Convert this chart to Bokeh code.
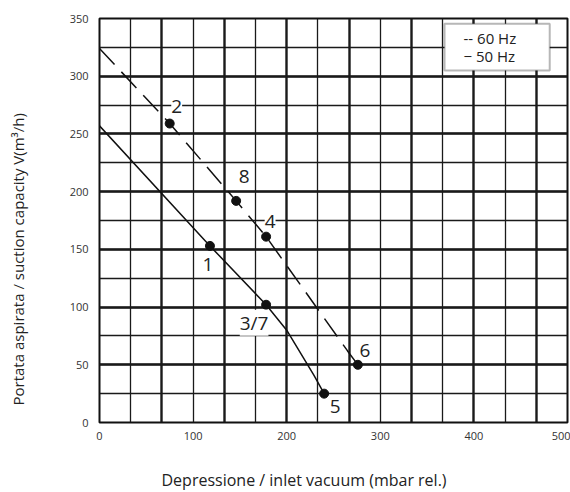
from bokeh.plotting import figure
from bokeh.models import (ColumnDataSource, LabelSet, Label, BoxAnnotation, Grid,
                          FixedTicker, Range1d, Title, LinearAxis)
from bokeh.core.properties import value
from bokeh.embed import file_html
from bokeh.resources import INLINE

# ---- data ----
x50 = [0, 118, 178, 200, 229, 240]
y50 = [257, 153, 102, 80, 41, 25]

x60 = [0, 75, 146, 178, 265, 276]
y60 = [324, 259, 192, 161, 62, 50]

pt_x = [75, 146, 178, 118, 178, 276, 240]
pt_y = [259, 192, 161, 153, 102, 50, 25]
pt_lbl = ["2", "8", "4", "1", "3/7", "6", "5"]

x_ticks = [0, 100, 200, 300, 400, 500]
y_ticks = [0, 50, 100, 150, 200, 250, 300, 350]

legend_lines = ["-- 60 Hz", "\u2212 50 Hz"]
x_title = "Depressione / inlet vacuum (mbar rel.)"
y_title = "Portata aspirata / suction capacity V(m\u00b3/h)"

FONT = "Open Sans"

p = figure(width=570, height=492, output_backend="svg", toolbar_location=None,
           x_range=Range1d(0, 500), y_range=Range1d(0, 350),
           min_border_left=99, min_border_right=3, min_border_top=18,
           min_border_bottom=70)
p.background_fill_color = "white"
p.border_fill_color = "white"
p.outline_line_color = "#111111"
p.outline_line_width = 2

# grids
p.xgrid.visible = False
p.ygrid.visible = False
thin_x = [k * 100 / 3 for k in range(16)]
thick_x = [k * 100 / 3 for k in range(0, 16, 2)]
thin_y = list(range(0, 351, 25))
thick_y = list(range(0, 351, 50))
for dim, ticks, w in [(0, thin_x, 1.3), (0, thick_x, 2.3), (1, thin_y, 1.3), (1, thick_y, 2.3)]:
    g = Grid(dimension=dim, ticker=FixedTicker(ticks=ticks),
             grid_line_color="#1a1a1a", grid_line_width=w)
    p.add_layout(g, "center")

# axes
for ax in (p.xaxis[0], p.yaxis[0]):
    ax.axis_line_color = None
    ax.major_tick_line_color = None
    ax.minor_tick_line_color = None
    ax.major_label_text_font = FONT
    ax.major_label_text_font_size = "11px"
    ax.major_label_text_color = "#333333"
p.xaxis[0].ticker = FixedTicker(ticks=x_ticks)
p.yaxis[0].ticker = FixedTicker(ticks=y_ticks)
p.xaxis[0].major_label_standoff = 3
p.yaxis[0].major_label_standoff = 5


def spacer(gap, tick):
    # blank axis (white tick on white border, no label text) that only adds a gap
    return LinearAxis(ticker=FixedTicker(ticks=[tick]), axis_line_color=None,
                      major_tick_in=0, major_tick_out=gap,
                      major_tick_line_color="white", minor_tick_line_color=None,
                      major_label_standoff=0, major_label_overrides={tick: ""},
                      major_label_text_font_size="1px")


p.add_layout(spacer(24, 250), "below")
p.add_layout(Title(text=x_title, align="left", offset=62, standoff=0,
                   vertical_align="bottom",
                   text_font=FONT, text_font_size="16px", text_font_style="normal",
                   text_color="#222222"), "below")
p.add_layout(spacer(39, 175), "left")
p.add_layout(Title(text=y_title, align="left", offset=17, standoff=0,
                   vertical_align="bottom",
                   text_font=FONT, text_font_size="15px", text_font_style="normal",
                   text_color="#222222"), "left")

# curves
p.line(x50, y50, line_color="#111111", line_width=1.5)
p.line(x60, y60, line_color="#111111", line_width=1.5, line_dash="22 10")

src = ColumnDataSource(dict(x=pt_x, y=pt_y, t=pt_lbl,
                            dx=[7, 8, 4, -2, -12, 7, 11],
                            dy=[17, 24, 15, -19, -18, 14, -13]))
p.scatter("x", "y", source=src, size=9, color="#111111")
p.add_layout(LabelSet(x="x", y="y", text="t", source=src, x_offset="dx", y_offset="dy",
                      text_align="center", text_baseline="middle",
                      text_font=value(FONT), text_font_size=value("19px"),
                      text_color="#222222", background_fill_color="white"))

# legend box
p.add_layout(BoxAnnotation(left=368.6, right=481.0, top=345.4, bottom=305.0,
                           fill_color="white", fill_alpha=1.0,
                           line_color="#111111", line_width=2))
for i, txt in enumerate(legend_lines):
    p.add_layout(Label(x=364, y=384.7 - 17.7 * i, x_units="screen", y_units="screen",
                       text=txt, text_align="left", text_baseline="middle",
                       text_font=FONT, text_font_size="15px", text_color="#222222"))

open("out.html", "w").write(file_html(p, INLINE))
